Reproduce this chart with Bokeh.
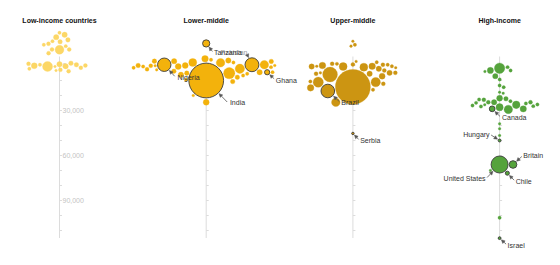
import numpy as np
from bokeh.plotting import figure
from bokeh.models import Range1d, ColumnDataSource, Arrow, NormalHead
from bokeh.embed import file_html
from bokeh.resources import INLINE
from bokeh.core.properties import value

# ---------------- data (listed in swarm placement order) ----------------
group_titles = ["Low-income countries", "Lower-middle", "Upper-middle", "High-income"]

low_values = [-10500, -21800, -18900, -20500, -16200, -17100, -14500, -15800, -13800, -12900,
              -10700, -10700, -8200,
              -900, 700, 500, 700, -1500, -500, -500, 200, 2900, 3300, 1500, 2200,
              3800, -1100, 0]
low_pop = [90, 13, 33, 33, 13, 24, 18, 24, 13, 13, 18, 18, 18,
           33, 8, 33, 115, 24, 13, 24, 41, 18, 8, 18, 13, 18, 18, 18]
low_names = [""] * len(low_values)

lower_values = [10000, 5100, -2000, 2200, 0, -1800, 700, -500, -4500, 4500, -2900, -500,
                -500, -3300,
                200, 4500, 200, 4500, 5100, -2000, 2500, -2700, 3800, 1100, 20000, 6700, -2900,
                10700, 6200, -3800, 700, 24500, 0, 7800, 9500, 5500, 1500, 0, 2900,
                -14700]
lower_pop = [1380, 148, 73, 101, 41, 85, 41, 221, 50, 33, 33, 85,
             206, 33,
             8, 31, 18, 13, 24, 13, 18, 24, 24, 13, 8, 13, 24,
             24, 33, 13, 13, 41, 24, 24, 13, 13, 13, 8, 8,
             60]
lower_names = ["India"] + [""] * 6 + ["Pakistan"] + [""] * 4 + ["Nigeria", "", "", "Ghana"] \
    + [""] * 23 + ["Tanzania"]

upper_values = [14300, 11100, 17000, 1100, 6000, 7100, 700, 500, 11100, 12200, 14900, 2200,
                24500, 16200, 0, 5500,
                -16200, -13800, -12900, 3300, 4900, 4900, -700, 4900, -1100, -500, -1100,
                -500, 5500, 500, 500, 1500, 10700, -2700, 700, -2200,
                45300]
upper_pop = [1402, 101, 212, 73, 250, 41, 73, 50, 120, 18, 50, 33,
             85, 13, 50, 33,
             8, 13, 8, 18, 8, 33, 18, 18, 13, 18, 18,
             13, 18, 13, 8, 8, 13, 8, 33, 13,
             7]
upper_names = ["", "", "Brazil"] + [""] * 33 + ["Serbia"]

high_values = [66000, 66000, 1800, 71800, 27800, 29300, 3300, 26200, 24500, 28900, 24500,
               21800, 50000,
               1100, 4000, 3300, 7100, 9300, 13300, 14500, 17800, 18500,
               26200, 22200, 27300, 25300, 22900, 23800, 22700, 24500, 24900, 27100, 28900,
               26000, 26700,
               38900, 42200, 46700, 70000, 101500,
               115100]
high_pop = [331, 67, 126, 19, 60, 83, 45, 67, 33, 47, 18,
            41, 9.7,
            13, 8, 13, 33, 13, 13, 13, 8, 8,
            8, 24, 13, 13, 18, 13, 13, 18, 13, 13, 38,
            13, 13,
            8, 8, 8, 8, 13,
            9.2]
high_names = ["United States", "Britain", "", "Chile"] + [""] * 8 + ["Hungary"] + [""] * 19 \
    + ["Canada"] + [""] * 7 + ["Israel"]

axis_tick_values = [30000, 60000, 90000]
axis_tick_labels = ["30,000", "60,000", "90,000"]

groups = [(low_values, low_pop, low_names),
          (lower_values, lower_pop, lower_names),
          (upper_values, upper_pop, upper_names),
          (high_values, high_pop, high_names)]

# ---------------- layout & style ----------------
W, H = 560, 265
ZERO_PX = 65.0
PX_PER_UNIT = 15.0 / 10000.0
Y_TOP = -ZERO_PX / PX_PER_UNIT
Y_BOTTOM = (H - ZERO_PX) / PX_PER_UNIT
CENTERS = [59 + 146.7 * i for i in range(4)]
FILLS = ["#fcd766", "#f3b20c", "#cc9512", "#55a33c"]
R_MAX, POP_MAX = 17.5, 1400.0
FONT = "Liberation Sans"
AXIS_MIN, AXIS_MAX, TICK_STEP = -6000, 115000, 10000
PAD = 1.1

# label placement relative to bubble centre, in px: text dx, dy, align, arrow tail dx, dy
LABEL_STYLE = {
    "Nigeria": (13.2, 12.4, "left", 10.4, 11.5),
    "India": (23.7, 22.0, "left", 21.0, 21.5),
    "Tanzania": (7.7, 9.5, "left", 6.2, 8.0),
    "Pakistan": (-4.5, -11.8, "right", -4.5, -9.5),
    "Ghana": (8.7, 8.3, "left", 7.0, 6.5),
    "Brazil": (13.5, 11.2, "left", 11.5, 10.5),
    "Serbia": (7.3, 7.0, "left", 5.8, 6.0),
    "Canada": (9.8, 8.4, "left", 7.8, 7.5),
    "Hungary": (-10.0, -6.0, "right", -8.5, -5.5),
    "Britain": (10.3, -9.0, "left", 8.8, -8.0),
    "United States": (-14.0, 13.7, "right", -12.5, 13.0),
    "Chile": (8.3, 8.3, "left", 6.8, 7.0),
    "Israel": (8.0, 7.3, "left", 6.5, 6.0),
}
assert all(len(g[0]) == len(g[1]) == len(g[2]) for g in groups)


def radius_px(pop):
    return R_MAX * np.sqrt(np.asarray(pop, dtype=float) / POP_MAX)


def swarm(vals, rads, pad=PAD):
    """Greedy beeswarm: bubbles placed in data order, alternating sides,
    each as close to the axis as possible without overlapping."""
    ys = np.asarray(vals, dtype=float) * PX_PER_UNIT
    n = len(ys)
    xs = np.zeros(n)
    placed = []
    for i in range(n):
        side = -1.0 if i % 2 == 0 else 1.0
        cands = [0.0]
        for j in placed:
            d = rads[i] + rads[j] + pad
            dy = ys[i] - ys[j]
            if abs(dy) < d:
                dx = np.sqrt(d * d - dy * dy)
                cands += [xs[j] + dx, xs[j] - dx]
        cands = [c for c in cands if c * side >= -1e-9]
        cands.sort(key=abs)
        for c in cands:
            ok = all((c - xs[j]) ** 2 + (ys[i] - ys[j]) ** 2 >= (rads[i] + rads[j] + pad) ** 2 - 1e-6
                     for j in placed)
            if ok:
                xs[i] = c
                break
        placed.append(i)
    return xs


p = figure(width=W, height=H, x_range=Range1d(0, W), y_range=Range1d(Y_BOTTOM, Y_TOP),
           output_backend="svg", toolbar_location=None, min_border=0,
           x_axis_location=None, y_axis_location=None)
p.grid.visible = False
p.outline_line_color = None
p.background_fill_color = "white"

tick_vals = list(range(0, AXIS_MAX, TICK_STEP))

for gi, (vals, pops, names) in enumerate(groups):
    cx = CENTERS[gi]
    p.segment(x0=[cx], y0=[AXIS_MIN], x1=[cx], y1=[AXIS_MAX], line_color="#dcdcdc", line_width=1)
    p.segment(x0=[cx] * len(tick_vals), y0=tick_vals, x1=[cx + 2.5] * len(tick_vals), y1=tick_vals,
              line_color="#dcdcdc", line_width=1)
    if gi == 0:
        p.text(x=[cx + 3] * (len(axis_tick_values) + 1), y=[0] + axis_tick_values,
               text=["0"] + axis_tick_labels, text_font=value(FONT), text_font_size="7px",
               text_color="#c4c4c4", text_baseline="middle", text_align="left")
    p.text(x=[cx], y=[(20 - ZERO_PX) / PX_PER_UNIT], text=[group_titles[gi]], text_font=value(FONT),
           text_font_size="7px", text_font_style="bold", text_color="#111111",
           text_align="center", text_baseline="middle")

    rads = radius_px(pops)
    offs = swarm(vals, rads)
    xs = cx + offs
    labeled = [bool(n) for n in names]
    src = ColumnDataSource(dict(
        x=xs, y=vals, size=2 * rads,
        lc=["#3c3c3c" if l else FILLS[gi] for l in labeled],
        lw=[0.9 if l else 0.3 for l in labeled]))
    p.scatter(x="x", y="y", size="size", source=src, fill_color=FILLS[gi],
              line_color="lc", line_width="lw")

    for i, name in enumerate(names):
        if not name:
            continue
        tdx, tdy, align, adx, ady = LABEL_STYLE[name]
        bx, by = xs[i], vals[i] * PX_PER_UNIT
        color = "#9a9a9a" if name == "Pakistan" else "#333333"
        p.text(x=[bx + tdx], y=[vals[i] + tdy / PX_PER_UNIT], text=[name], text_font=value(FONT),
               text_font_size="7px", text_color=color, text_align=align, text_baseline="middle")
        tx, ty = bx + adx, by + ady
        vx, vy = tx - bx, ty - by
        L = np.hypot(vx, vy)
        ex, ey = bx + vx / L * (rads[i] + 1.0), by + vy / L * (rads[i] + 1.0)
        p.add_layout(Arrow(end=NormalHead(size=3.5, fill_color="#555555", line_color="#555555",
                                          line_width=0.5),
                           x_start=tx, y_start=ty / PX_PER_UNIT, x_end=ex, y_end=ey / PX_PER_UNIT,
                           line_color="#555555", line_width=0.8))

open("out.html", "w").write(file_html(p, INLINE))
